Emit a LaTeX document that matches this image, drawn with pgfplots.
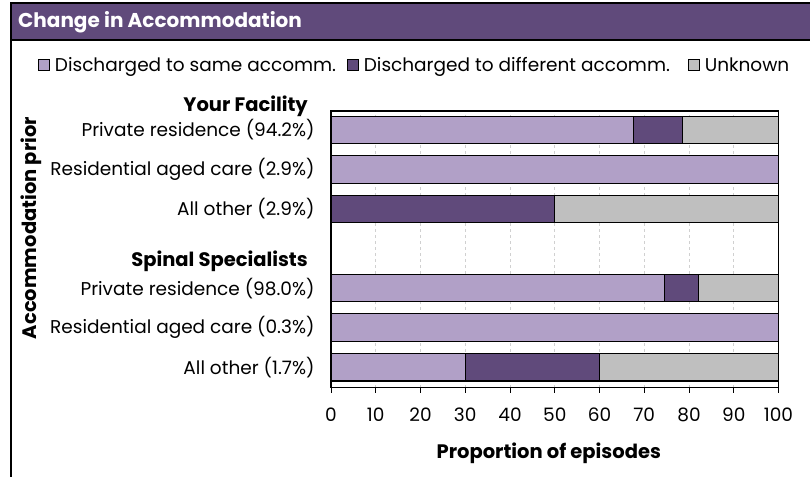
\documentclass[border=0pt]{standalone}
\usepackage{pgfplots}
\pgfplotsset{compat=1.18}
\usepackage{fontspec}
\setmainfont{Poppins}
\definecolor{lpurp}{HTML}{B1A0C7}
\definecolor{dpurp}{HTML}{604A7B}
\definecolor{ugray}{HTML}{BFBFBF}
\definecolor{gridc}{HTML}{D0D0D0}
\newcommand{\rf}{\fontsize{18.5}{22}\selectfont}
\newcommand{\bfl}{\bfseries\fontsize{19.5}{23}\selectfont}
\begin{document}
\begin{tikzpicture}
\path[use as bounding box] (0pt,0pt) rectangle (810pt,-477pt);
\fill[dpurp] (11pt,-3pt) rectangle (810pt,-40pt);
\draw[black,line width=1.5pt] (11pt,-3pt) -- (810pt,-3pt);
\draw[black,line width=1.5pt] (11pt,-40pt) -- (810pt,-40pt);
\draw[black,line width=1.5pt] (11pt,-2.25pt) -- (11pt,-477pt);
\node[anchor=west,text=white,font=\bfseries\fontsize{20}{24}\selectfont,inner sep=0pt] at (18pt,-22pt) {Change in Accommodation};
\begin{axis}[
  at={(331pt,-387.7pt)}, anchor=south west,
  scale only axis, width=447.5pt, height=276.7pt,
  xbar stacked, bar width=27.6pt,
  xmin=0, xmax=100, ymin=-0.52, ymax=6.48,
  clip=false,
  axis line style={black, line width=1.3pt},
  xtick={0,10,...,100}, xtick pos=bottom, xtick align=outside,
  major tick length=5pt,
  x tick style={black, line width=1pt},
  ytick={0,1,2,4,5,6},
  yticklabels={All other (1.7\%), Residential aged care (0.3\%), Private residence (98.0\%), All other (2.9\%), Residential aged care (2.9\%), Private residence (94.2\%)},
  y tick style={draw=none},
  yticklabel style={font=\rf, xshift=-13pt},
  xticklabel style={font=\rf, yshift=-12pt},
  /pgf/number format/assume math mode=true,
  xmajorgrids, grid style={gridc, dashed, line width=0.7pt},
  xlabel={Proportion of episodes},
  xlabel style={font=\bfl, at={(axis description cs:0.4866,-0.236)}, anchor=center},
  ylabel={Accommodation prior},
  ylabel style={font=\bfl, at={(axis description cs:-0.669,0.577)}, anchor=center},
  legend columns=3,
  legend style={at={(axis description cs:-0.655,1.166)}, anchor=west, draw=none, fill=none, font=\rf, inner sep=0pt, nodes={inner sep=2pt}},
]
\addplot[fill=lpurp, draw=black, line width=1.1pt, legend image code/.code={\draw[fill=lpurp,draw=black,line width=0.9pt] (0pt,-5.5pt) rectangle (11pt,5.5pt);}] coordinates {(67.6,6) (100,5) (0,4) (74.5,2) (100,1) (30,0)};
\addplot[fill=dpurp, draw=black, line width=1.1pt, legend image code/.code={\draw[fill=dpurp,draw=black,line width=0.9pt] (0pt,-5.5pt) rectangle (11pt,5.5pt);}] coordinates {(10.9,6) (0,5) (50,4) (7.7,2) (0,1) (30,0)};
\addplot[fill=ugray, draw=black, line width=1.1pt, legend image code/.code={\draw[fill=ugray,draw=black,line width=0.9pt] (0pt,-5.5pt) rectangle (11pt,5.5pt);}] coordinates {(21.5,6) (0,5) (50,4) (17.8,2) (0,1) (40,0)};
\legend{\hspace{3pt}\makebox[290pt][l]{Discharged to same accomm.}, \hspace{3pt}\makebox[322pt][l]{Discharged to different accomm.}, \hspace{3pt}Unknown}
\node[anchor=base east, font=\bfl, inner sep=0pt] at ([xshift=-23pt]axis cs:0,6.468) {Your Facility};
\node[anchor=base east, font=\bfl, inner sep=0pt] at ([xshift=-23pt]axis cs:0,2.557) {Spinal Specialists};
\end{axis}
\end{tikzpicture}
\end{document}
